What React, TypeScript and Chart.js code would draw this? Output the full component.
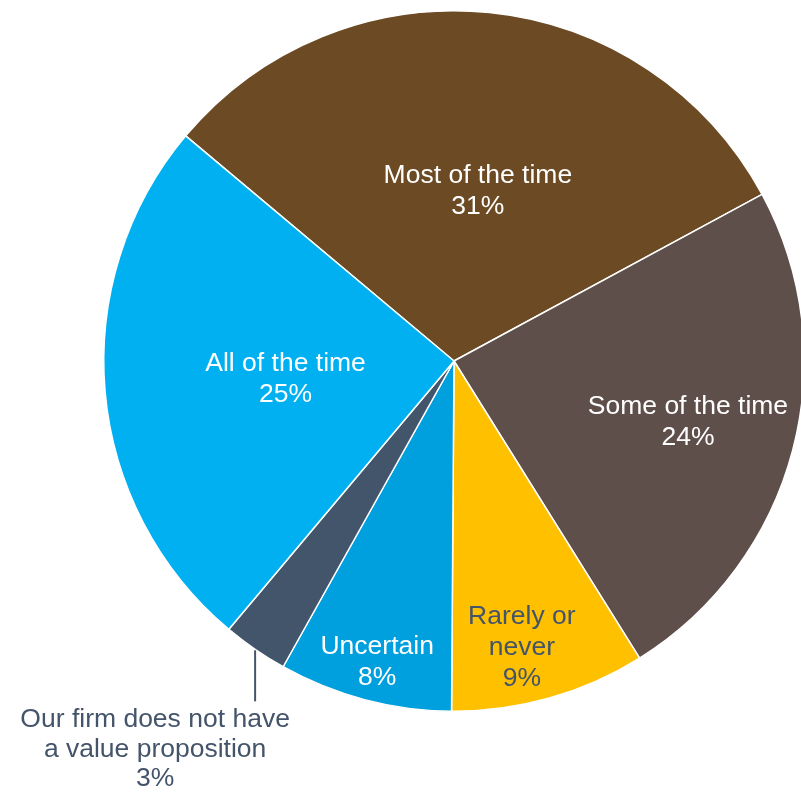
import React, { useEffect, useRef } from "react";
import { Chart, registerables } from "chart.js";

Chart.register(...registerables);

const categories = [
  "Most of the time",
  "Some of the time",
  "Rarely or never",
  "Uncertain",
  "Our firm does not have a value proposition",
  "All of the time",
];
const values = [31, 24, 9, 8, 3, 25];
const labelLines = [
  ["Most of the time"],
  ["Some of the time"],
  ["Rarely or", "never"],
  ["Uncertain"],
  ["Our firm does not have", "a value proposition"],
  ["All of the time"],
];
const sliceColors = ["#6B4A24", "#5E4F4B", "#FFC000", "#009FDD", "#42556A", "#00B0F0"];
const textColors = ["#FFFFFF", "#FFFFFF", "#44546A", "#FFFFFF", "#44546A", "#FFFFFF"];
// radial position of inside labels as fraction of radius (null = outside label)
const labelRadius: (number | null)[] = [0.496, 0.689, 0.836, 0.882, null, 0.483];
// small angular nudge of label placement (degrees)
const labelAngleNudge = [2.1, -0.6, 2.4, -0.4, 0, -0.4];

const FONT_SIZE = 26.5;
const FONT = `${FONT_SIZE}px "Liberation Sans", Arial, sans-serif`;

const labelPlugin = {
  id: "sliceLabels",
  afterDatasetsDraw(chart: any) {
    const ctx = chart.ctx as CanvasRenderingContext2D;
    const meta = chart.getDatasetMeta(0);
    const capH = 0.716 * FONT_SIZE;
    ctx.save();
    ctx.font = FONT;
    ctx.textAlign = "center";
    ctx.textBaseline = "alphabetic";
    meta.data.forEach((arc: any, i: number) => {
      const { x, y, startAngle, endAngle, outerRadius } = arc.getProps(
        ["x", "y", "startAngle", "endAngle", "outerRadius"],
        true
      );
      const mid = (startAngle + endAngle) / 2;
      const lines = [...labelLines[i], `${values[i]}%`];
      ctx.fillStyle = textColors[i];
      const f = labelRadius[i];
      if (f !== null) {
        const a = mid + (labelAngleNudge[i] * Math.PI) / 180;
        const cx = x + Math.cos(a) * f * outerRadius;
        const cy = y + Math.sin(a) * f * outerRadius;
        const L = 31;
        const first = cy - ((lines.length - 1) * L) / 2 + capH / 2;
        lines.forEach((t, k) => ctx.fillText(t, cx, first + k * L));
      } else {
        const ex = x + Math.cos(mid) * outerRadius;
        const ey = y + Math.sin(mid) * outerRadius;
        ctx.strokeStyle = "#44546A";
        ctx.lineWidth = 2;
        ctx.beginPath();
        ctx.moveTo(ex, ey + 1);
        ctx.lineTo(ex, ey + 52);
        ctx.stroke();
        const cx = ex - 100;
        const L = 29.5;
        const first = ey + 78;
        lines.forEach((t, k) => ctx.fillText(t, cx, first + k * L));
      }
    });
    ctx.restore();
  },
};

export default function App() {
  const ref = useRef<HTMLCanvasElement | null>(null);
  useEffect(() => {
    if (!ref.current) return;
    const chart = new Chart(ref.current, {
      type: "pie",
      data: {
        labels: categories,
        datasets: [
          {
            data: values,
            backgroundColor: sliceColors,
            borderColor: "#FFFFFF",
            borderWidth: 1.5,
            hoverOffset: 0,
            offset: 0,
          },
        ],
      },
      options: {
        responsive: false,
        maintainAspectRatio: false,
        animation: false,
        devicePixelRatio: 1,
        events: [],
        rotation: -50,
        layout: { padding: { left: 103, top: 10, right: 15, bottom: 80 } },
        plugins: {
          legend: { display: false },
          tooltip: { enabled: false },
        },
      },
      plugins: [labelPlugin],
    });
    return () => chart.destroy();
  }, []);
  return (
    <div
      style={{
        position: "absolute",
        left: 0,
        top: 0,
        width: 801,
        height: 792,
        overflow: "hidden",
        background: "#FFFFFF",
      }}
    >
      <canvas ref={ref} width={820} height={792} style={{ display: "block" }} />
    </div>
  );
}
